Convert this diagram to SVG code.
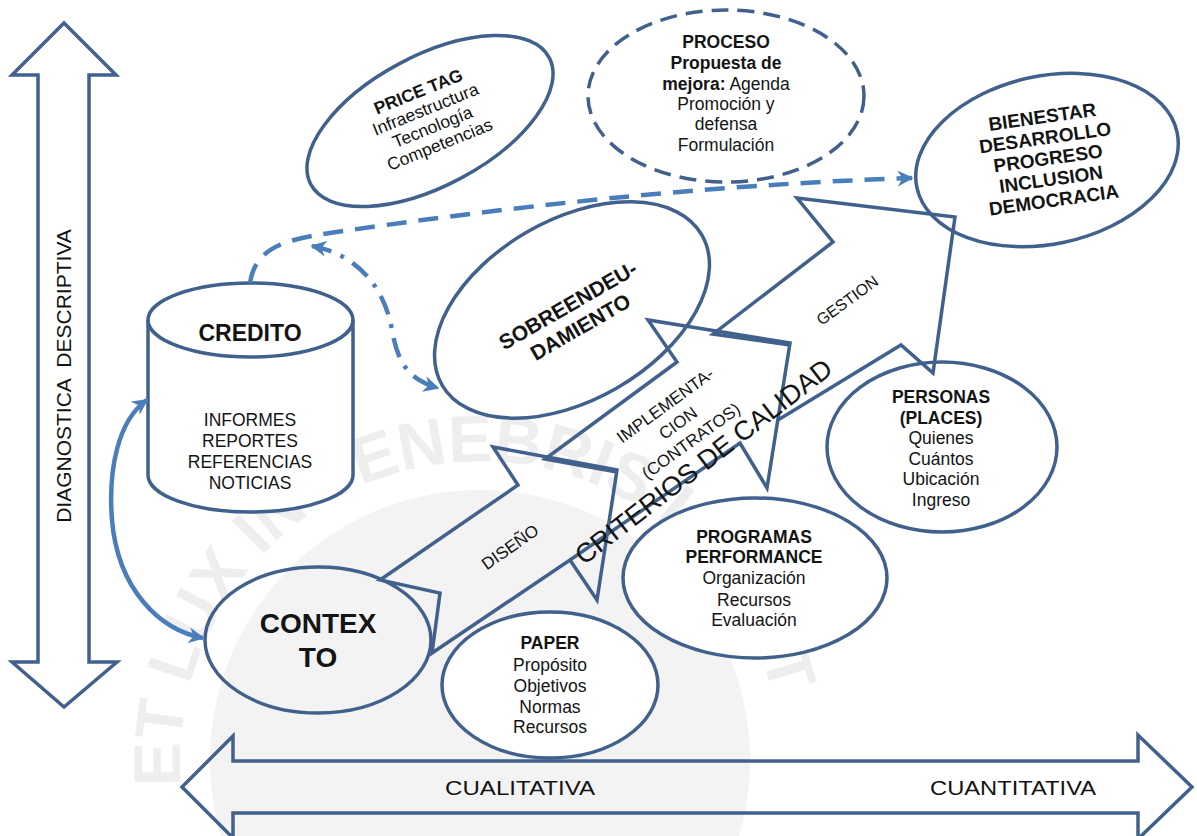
<svg xmlns="http://www.w3.org/2000/svg" width="1197" height="836" viewBox="0 0 1197 836">
<style>
.n{fill:#fff;stroke:#41618C;stroke-width:3.5}
.o{fill:none;stroke:#41618C;stroke-width:3.5;stroke-linejoin:miter}
.t{font-family:"Liberation Sans",Arial,sans-serif;fill:#141414;text-anchor:middle}
.s{font-size:17.5px}
.b{font-weight:bold}
.c{fill:none;stroke:#4A7EBB;stroke-width:4.5}
</style>
<defs>
<marker id="ah" viewBox="0 0 10 10" refX="9" refY="5" markerWidth="16" markerHeight="16" markerUnits="userSpaceOnUse" orient="auto-start-reverse">
<path d="M0,0 L10,5 L0,10 L3,5 z" fill="#4A7EBB"/>
</marker>
<path id="wmArc" d="M181,786 A300,300 0 1 1 779,786" fill="none"/>
</defs>
<rect width="1197" height="836" fill="#fff"/>
<g id="watermark">
<circle cx="480" cy="760" r="270" fill="#f3f3f3"/>
<text font-family="Liberation Sans, Arial, sans-serif" font-size="66" font-weight="bold" fill="#eeeeee"><textPath href="#wmArc" textLength="900">ET LUX IN TENEBRIS LUCET</textPath></text>
</g>
<g id="axis-vertical">
<polygon class="o" points="64,23 116,75 89,75 89,662 117,662 64,707 12,662 38,662 38,75 12,75"/>
<text class="t" style="white-space:pre;font-size:21px" transform="translate(64,376) rotate(-90)" y="7">DIAGNOSTICA  DESCRIPTIVA</text>
</g>
<g id="axis-horizontal">
<polygon class="o" points="182,787 233,736 233,761 1138,761 1138,735 1192,787 1138,839 1138,813 233,813 233,838"/>
<text class="t" x="520" y="795" style="font-size:21px" textLength="150" lengthAdjust="spacingAndGlyphs">CUALITATIVA</text>
<text class="t" x="1013" y="795" style="font-size:21px" textLength="166" lengthAdjust="spacingAndGlyphs">CUANTITATIVA</text>
</g>
<g id="credito">
<path class="n" d="M148,320 L148,475 A102.5,37 0 0 0 353,475 L353,320 A102.5,37 0 0 0 148,320 Z"/>
<path class="o" d="M148,320 A102.5,37 0 0 0 353,320"/>
<text class="t b" x="250" y="341" style="font-size:23px">CREDITO</text>
<text class="t s" x="250" y="426">INFORMES</text>
<text class="t s" x="250" y="447">REPORTES</text>
<text class="t s" x="250" y="468">REFERENCIAS</text>
<text class="t s" x="250" y="489">NOTICIAS</text>
</g>
<g id="price-tag">
<ellipse class="n" cx="430" cy="121" rx="135" ry="65" transform="rotate(-28 430 121)"/>
<g transform="translate(429,118) rotate(-22)">
<text class="t s b" y="-22.5">PRICE TAG</text>
<text class="t s" y="-3.5">Infraestructura</text>
<text class="t s" y="15.5">Tecnología</text>
<text class="t s" y="34.5">Competencias</text>
</g>
</g>
<g id="proceso">
<ellipse cx="726" cy="96" rx="138" ry="86" fill="#fff" stroke="#41618C" stroke-width="3.5" stroke-dasharray="17 9"/>
<text class="t s b" x="726" y="48">PROCESO</text>
<text class="t s b" x="726" y="69">Propuesta de</text>
<text class="t s" x="726" y="90"><tspan class="b">mejora:</tspan> Agenda</text>
<text class="t s" x="726" y="110">Promoción y</text>
<text class="t s" x="726" y="130">defensa</text>
<text class="t s" x="726" y="151">Formulación</text>
</g>
<g id="bienestar">
<ellipse class="n" cx="1047" cy="160" rx="133" ry="84" transform="rotate(-12 1047 160)"/>
<g transform="translate(1048,158) rotate(-8)" style="font-size:19px">
<text class="t b" y="-35">BIENESTAR</text>
<text class="t b" y="-14">DESARROLLO</text>
<text class="t b" y="7">PROGRESO</text>
<text class="t b" y="28">INCLUSION</text>
<text class="t b" y="49">DEMOCRACIA</text>
</g>
</g>
<g id="sobreendeudamiento">
<ellipse class="n" cx="572" cy="310" rx="150" ry="90" transform="rotate(-30 572 310)"/>
<g transform="translate(574,316) rotate(-30)" style="font-size:21px">
<text class="t b" y="-5">SOBREENDEU-</text>
<text class="t b" y="20">DAMIENTO</text>
</g>
</g>
<g id="contexto">
<ellipse cx="318" cy="640" rx="113" ry="73" fill="none" stroke="#41618C" stroke-width="3.5"/>
<text class="t b" x="318" y="633" style="font-size:28px">CONTEX</text>
<text class="t b" x="318" y="667" style="font-size:28px">TO</text>
</g>
<g id="paper">
<ellipse class="n" cx="550" cy="685" rx="108" ry="73"/>
<text class="t s b" x="550" y="649">PAPER</text>
<text class="t s" x="550" y="671">Propósito</text>
<text class="t s" x="550" y="692">Objetivos</text>
<text class="t s" x="550" y="713">Normas</text>
<text class="t s" x="550" y="733">Recursos</text>
</g>
<g id="programas">
<ellipse class="n" cx="755" cy="578" rx="132" ry="80"/>
<text class="t s b" x="754" y="543">PROGRAMAS</text>
<text class="t s b" x="754" y="563">PERFORMANCE</text>
<text class="t s" x="754" y="584">Organización</text>
<text class="t s" x="754" y="606">Recursos</text>
<text class="t s" x="754" y="626">Evaluación</text>
</g>
<g id="personas">
<ellipse class="n" cx="942" cy="447" rx="115" ry="85"/>
<text class="t s b" x="941" y="403">PERSONAS</text>
<text class="t s b" x="941" y="424">(PLACES)</text>
<text class="t s" x="941" y="444">Quienes</text>
<text class="t s" x="941" y="465">Cuántos</text>
<text class="t s" x="941" y="485">Ubicación</text>
<text class="t s" x="941" y="506">Ingreso</text>
</g>
<g id="flow-arrows">
<path class="o" d="M380,580 L518,485 L493,447 L617,470 L597,600 L570,560 L432,653 L440,593 Z"/>
<path class="o" d="M617,472 L545,459 L677,362 L648,320 L790,343 L767,488 L740,443 L570,560"/>
<path class="o" d="M790,345 L713,334 L833,242 L797,198 L955,217 L933,373 L901,345 L778,420"/>
<text class="t" style="font-size:17px" transform="translate(510,547) rotate(-35)" y="6">DISEÑO</text>
<g transform="translate(678,423) rotate(-36)" style="font-size:17px">
<text class="t" y="-16">IMPLEMENTA-</text>
<text class="t" y="6">CION</text>
<text class="t" y="28">(CONTRATOS)</text>
</g>
<text class="t" style="font-size:27px" transform="translate(703,461) rotate(-37.7)" y="10">CRITERIOS DE CALIDAD</text>
<text class="t" style="font-size:16px" transform="translate(847,300) rotate(-36)" y="6">GESTION</text>
</g>
<g id="connectors">
<path class="c" stroke-dasharray="20 12" d="M250,283 C255,250 280,240 330,233 C500,208 700,185 912,178" marker-end="url(#ah)"/>
<path class="c" stroke-dasharray="20 10 4 10" d="M312,246 C360,255 385,290 392,330 C398,365 410,380 438,388" marker-start="url(#ah)" marker-end="url(#ah)"/>
<path class="c" d="M147,400 C118,420 108,470 112,520 C118,590 160,630 203,638" marker-start="url(#ah)" marker-end="url(#ah)"/>
</g>
</svg>
